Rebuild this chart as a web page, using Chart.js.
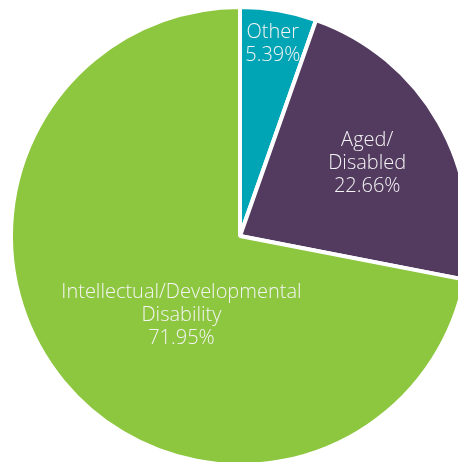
<!DOCTYPE html>
<html>
<head>
<meta charset="utf-8">
<script src="https://cdn.jsdelivr.net/npm/chart.js@4.4.1/dist/chart.umd.min.js"></script>
<style>
  html, body { margin: 0; padding: 0; background: #fff; overflow: hidden; width: 458px; height: 462px; }
  #wrap { position: absolute; left: 0; top: 0; width: 480px; height: 472px; }
</style>
</head>
<body>
<div id="wrap"><canvas id="pieChart"></canvas></div>
<script>
// data
const categories = ["Other", "Aged/Disabled", "Intellectual/Developmental Disability"];
const labelLines = [["Other"], ["Aged/", "Disabled"], ["Intellectual/Developmental", "Disability"]];
const shares = [5.39, 22.66, 71.95];
const sliceColors = ["#00a5b5", "#533a5f", "#8dc63f"];

// draws the white labels inside each slice
const sliceLabels = {
  id: "sliceLabels",
  afterDatasetsDraw(chart, args, opts) {
    const ctx = chart.ctx;
    const meta = chart.getDatasetMeta(0);
    ctx.save();
    ctx.fillStyle = opts.color;
    ctx.font = opts.font;
    ctx.textAlign = "center";
    ctx.textBaseline = "middle";
    meta.data.forEach((arc, i) => {
      const p = arc.getProps(["x", "y", "startAngle", "endAngle", "outerRadius"], true);
      const place = opts.place[i];
      const a = (p.startAngle + p.endAngle) / 2 + place.shift * Math.PI / 180;
      const cx = p.x + Math.cos(a) * p.outerRadius * place.r;
      const cy = p.y + Math.sin(a) * p.outerRadius * place.r;
      const lines = labelLines[i].concat([shares[i].toFixed(2) + "%"]);
      const top = cy - (lines.length - 1) * opts.lineHeight / 2;
      lines.forEach((t, j) => ctx.fillText(t, cx, top + j * opts.lineHeight));
    });
    ctx.restore();
  }
};

const ctx = document.getElementById("pieChart").getContext("2d");
const pieChart = new Chart(ctx, {
  type: "pie",
  data: {
    labels: categories,
    datasets: [
      {
        data: shares,
        backgroundColor: sliceColors,
        borderColor: "#ffffff",
        borderWidth: 4,
        radius: 229,
      },
    ],
  },
  options: {
    responsive: true,
    maintainAspectRatio: false,
    animation: false,
    plugins: {
      legend: { display: false },
      tooltip: { enabled: false },
      sliceLabels: {
        color: "#f4f4f4",
        font: "300 20px 'Open Sans'",
        lineHeight: 23,
        place: [
          { r: 0.85, shift: 0 },
          { r: 0.64, shift: 0 },
          { r: 0.43, shift: -14 },
        ],
      },
    },
  },
  plugins: [sliceLabels],
});
</script>
</body>
</html>
